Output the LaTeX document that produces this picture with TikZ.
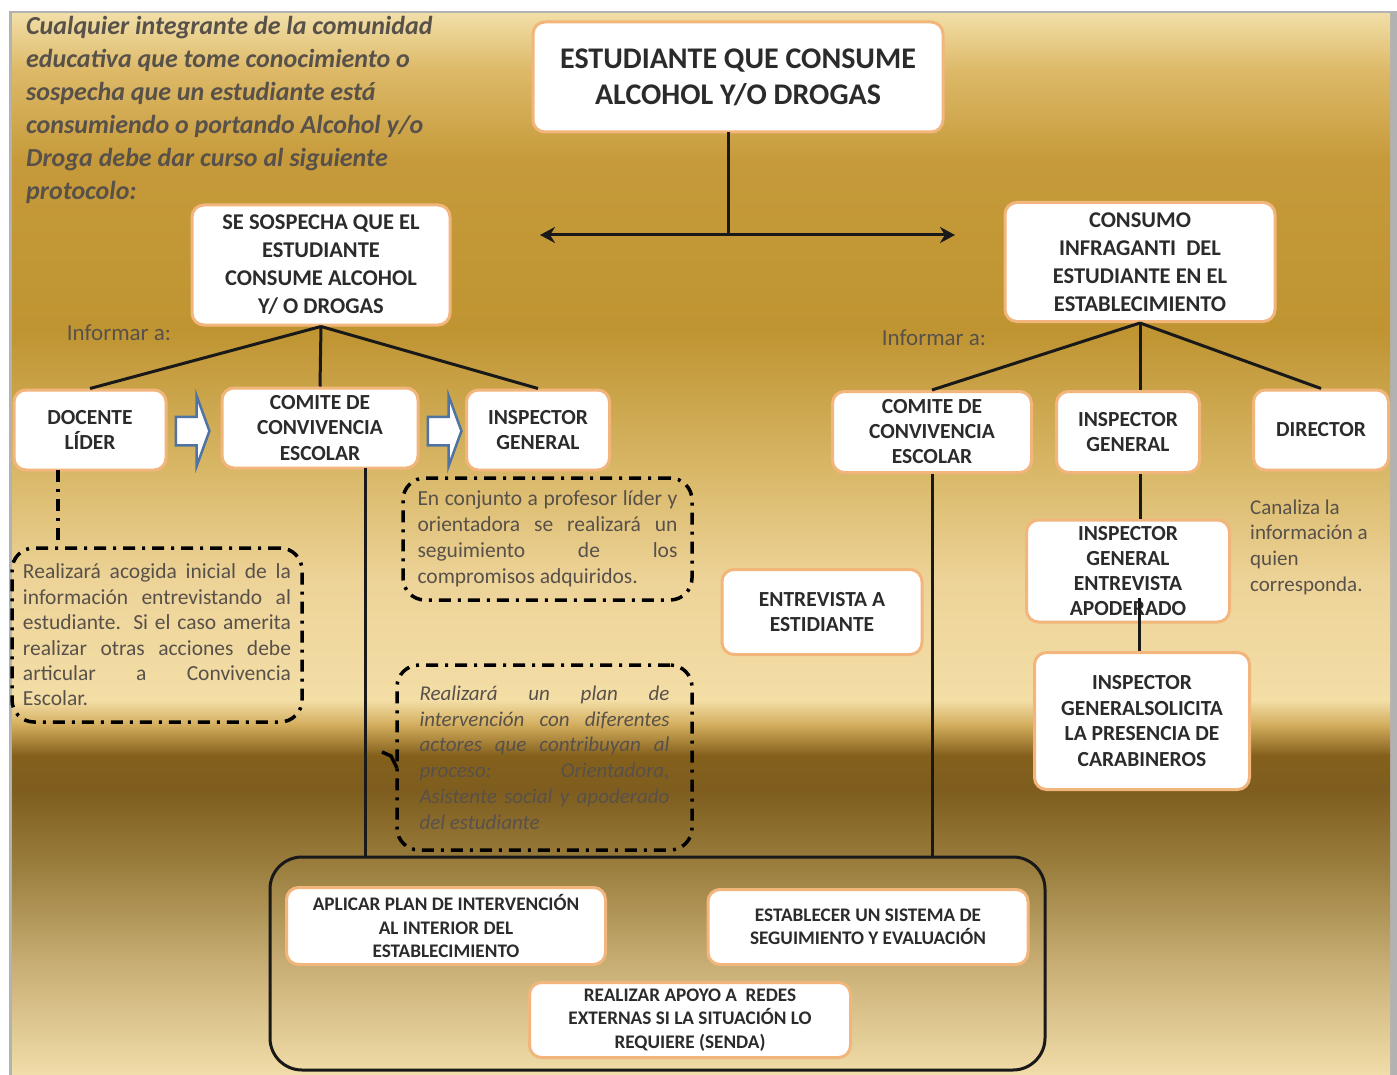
\documentclass[tikz,border=0pt]{standalone}
\usepackage{fontspec}
\setmainfont{Carlito}
\usetikzlibrary{arrows.meta,shapes.arrows}
\definecolor{boxborder}{HTML}{F2B67C}
\definecolor{txt}{HTML}{2B2B2B}
\definecolor{gtxt}{HTML}{58514A}
\definecolor{arrblue}{HTML}{4F74A4}
\definecolor{g0}{HTML}{F1DEA6}
\definecolor{g1}{HTML}{DDB968}
\definecolor{g2}{HTML}{C69A3A}
\definecolor{g3}{HTML}{BF9431}
\definecolor{g4}{HTML}{D8B767}
\definecolor{g5}{HTML}{EDD398}
\definecolor{g6}{HTML}{F3DEA6}
\definecolor{g7}{HTML}{D2AC5C}
\definecolor{g8}{HTML}{84601C}
\definecolor{g9}{HTML}{7E5D1E}
\definecolor{g10}{HTML}{9C8040}
\definecolor{g11}{HTML}{C6AC72}
\definecolor{g12}{HTML}{F1DDA9}
\tikzset{
  box/.style={draw=boxborder, line width=3pt, fill=white, rounded corners=12pt,
    text=txt, align=center, inner sep=0pt},
  bigf/.style={font=\bfseries\fontsize{30}{36}\selectfont},
  midf/.style={font=\bfseries\fontsize{22.5}{28}\selectfont},
  rowf/.style={font=\bfseries\fontsize{21.5}{24.5}\selectfont},
  lowf/.style={font=\bfseries\fontsize{19.2}{23.5}\selectfont},
  conn/.style={line width=3pt, draw=black!90},
  ddbox/.style={draw=black, line width=3.5pt, dash pattern=on 12pt off 7pt on 3pt off 7pt,
    rounded corners=22pt, inner sep=0pt, text=gtxt, align=justify},
  ddline/.style={draw=black, line width=3.5pt, dash pattern=on 12pt off 7pt on 3pt off 7pt},
  blockarrow/.style={single arrow, draw=arrblue, line width=2.5pt, fill=white,
    inner sep=13pt, minimum height=30pt, minimum width=70pt,
    single arrow tip angle=140, single arrow head extend=21pt},
  note/.style={text=gtxt, inner sep=0pt, align=left}
}
\begin{document}
\begin{tikzpicture}[x=1pt,y=-1pt]
\useasboundingbox (0,0) rectangle (1397,1075);
\fill[white] (0,0) rectangle (1397,1075);
\fill[black!30] (9,11) rectangle (1397,1075);
\shade[top color=g0, bottom color=g1] (12,14) rectangle (1390,70.5);
\shade[top color=g1, bottom color=g2] (12,70) rectangle (1390,160.5);
\shade[top color=g2, bottom color=g3] (12,160) rectangle (1390,330.5);
\shade[top color=g3, bottom color=g4] (12,330) rectangle (1390,470.5);
\shade[top color=g4, bottom color=g5] (12,470) rectangle (1390,580.5);
\shade[top color=g5, bottom color=g6] (12,580) rectangle (1390,700.5);
\shade[top color=g6, bottom color=g7] (12,700) rectangle (1390,725.5);
\shade[top color=g7, bottom color=g8] (12,725) rectangle (1390,755.5);
\shade[top color=g8, bottom color=g9] (12,755) rectangle (1390,790.5);
\shade[top color=g9, bottom color=g10] (12,790) rectangle (1390,870.5);
\shade[top color=g10, bottom color=g11] (12,870) rectangle (1390,960.5);
\shade[top color=g11, bottom color=g12] (12,960) rectangle (1390,1075);

% intro text
\node[note, anchor=west, font=\bfseries\itshape\fontsize{26}{33}\selectfont] (intro) at (26,110)
 {Cualquier integrante de la comunidad\\educativa que tome conocimiento o\\sospecha que un estudiante está\\consumiendo o portando Alcohol y/o\\Droga debe dar curso al siguiente\\protocolo:};

% top
\node[box, bigf, minimum width=410pt, minimum height=110pt] (title) at (738,77)
 {ESTUDIANTE QUE CONSUME\\ALCOHOL Y/O DROGAS};
\coordinate (tb) at (728,132);
\coordinate (tj) at (728,235);
\coordinate (al) at (540,235);
\coordinate (ar) at (955,235);
\draw[conn] (tb) -- (tj);
\draw[conn, {Stealth[length=15pt,width=16pt]}-{Stealth[length=15pt,width=16pt]}] (al) -- (ar);

\node[box, midf, minimum width=258pt, minimum height=120pt] (sosp) at (321,265)
 {SE SOSPECHA QUE EL\\ESTUDIANTE\\CONSUME ALCOHOL\\Y/ O DROGAS};
\node[box, midf, minimum width=270pt, minimum height=119pt] (infr) at (1140,262)
 {CONSUMO\\INFRAGANTI\ \ DEL\\ESTUDIANTE EN EL\\ESTABLECIMIENTO};

\node[note, font=\fontsize{23}{26}\selectfont] (inf1) at (119,333) {Informar a:};
\node[note, font=\fontsize{23}{26}\selectfont] (inf2) at (934,338) {Informar a:};

% left row
\node[box, rowf, minimum width=152pt, minimum height=80pt] (docL) at (90,430) {DOCENTE\\LÍDER};
\node[box, minimum width=196pt, minimum height=80pt, font=\bfseries\fontsize{21.5}{25.5}\selectfont] (comL) at (320,428) {COMITE DE\\CONVIVENCIA\\ESCOLAR};
\node[box, rowf, minimum width=143pt, minimum height=80pt] (inspL) at (538,430) {INSPECTOR\\GENERAL};
\node[blockarrow] (ba1) at (190,431) {};
\node[blockarrow] (ba2) at (442,431) {};

\draw[conn] (sosp.south) -- (docL.north);
\draw[conn] (sosp.south) -- (comL.north);
\draw[conn] (sosp.south) -- (inspL.north);

% right row
\node[box, minimum width=199pt, minimum height=81pt, font=\bfseries\fontsize{21.5}{25}\selectfont] (comR) at (932,432) {COMITE DE\\CONVIVENCIA\\ESCOLAR};
\node[box, rowf, minimum width=143pt, minimum height=81pt] (inspR) at (1128,432) {INSPECTOR\\GENERAL};
\node[box, rowf, minimum width=135pt, minimum height=80pt] (dirR) at (1321,430) {DIRECTOR};

\draw[conn] (infr.south) -- (comR.north);
\draw[conn] (infr.south) -- (infr.south |- inspR.north);
\draw[conn] (infr.south) -- (dirR.north);

\node[box, minimum width=203pt, minimum height=102pt, font=\bfseries\fontsize{21.5}{25.3}\selectfont] (ige) at (1128,571)
 {INSPECTOR\\GENERAL\\ENTREVISTA\\APODERADO};
\node[box, minimum width=215pt, minimum height=137pt, font=\bfseries\fontsize{21.5}{25.5}\selectfont] (igc) at (1142,721)
 {INSPECTOR\\GENERALSOLICITA\\LA PRESENCIA DE\\CARABINEROS};
\draw[conn] (infr.south |- inspR.south) -- (infr.south |- ige.north);
\coordinate (igx) at (1139,598);
\draw[conn] (igx) -- (igx |- igc.north);

\node[note, anchor=west, font=\fontsize{21}{25.7}\selectfont] (canal) at (1250,547)
 {Canaliza la\\información a\\quien\\corresponda.};

\node[box, rowf, minimum width=200pt, minimum height=85pt] (entr) at (822,612) {ENTREVISTA A\\ESTIDIANTE};

% dashed boxes
\node[ddbox, minimum width=290pt, minimum height=174pt, text width=268pt,
  font=\fontsize{21.5}{25.4}\selectfont] (lbox) at (157,635)
 {Realizará acogida inicial de la\linebreak información entrevistando al\linebreak estudiante. Si el caso amerita\linebreak realizar otras acciones debe\linebreak articular a Convivencia\linebreak Escolar.};
\node[ddbox, minimum width=289pt, minimum height=122pt, text width=260pt,
  font=\fontsize{21.5}{26}\selectfont] (tbox) at (547.5,539)
 {En conjunto a profesor líder y\linebreak orientadora se realizará un\linebreak seguimiento de los\linebreak compromisos adquiridos.};
\node[ddbox, minimum width=295pt, minimum height=185pt, text width=250pt,
  font=\itshape\fontsize{21}{25.8}\selectfont] (bbox) at (544.5,757.5)
 {Realizará un plan de\linebreak intervención con diferentes\linebreak actores que contribuyan al\linebreak proceso: Orientadora,\linebreak Asistente social y apoderado\linebreak del estudiante};
\coordinate (dl) at (58,470);
\draw[ddline] (dl) -- (dl |- lbox.north);
\coordinate (st1) at (382,752);
\coordinate (st2) at (391,756);
\coordinate (st3) at (397,768);
\draw[line width=3.5pt] (st1) -- (st2) -- (st3);

% bottom group
\node[draw=black!90, line width=3pt, rounded corners=32pt, minimum width=775pt, minimum height=213pt, inner sep=0pt] (big) at (657.5,963.5) {};
\coordinate (cl) at (365,468);
\draw[conn] (cl) -- (cl |- big.north);
\draw[conn] (comR.south) -- (comR.south |- big.north);

\node[box, lowf, minimum width=319pt, minimum height=77pt] (apl) at (446,926)
 {APLICAR PLAN DE INTERVENCIÓN\\AL INTERIOR DEL\\ESTABLECIMIENTO};
\node[box, lowf, minimum width=320pt, minimum height=75pt] (est) at (868,927)
 {ESTABLECER UN SISTEMA DE\\SEGUIMIENTO Y EVALUACIÓN};
\node[box, lowf, minimum width=321pt, minimum height=75pt] (real) at (690,1020)
 {REALIZAR APOYO A\ \ REDES\\EXTERNAS SI LA SITUACIÓN LO\\REQUIERE (SENDA)};
\end{tikzpicture}
\end{document}
